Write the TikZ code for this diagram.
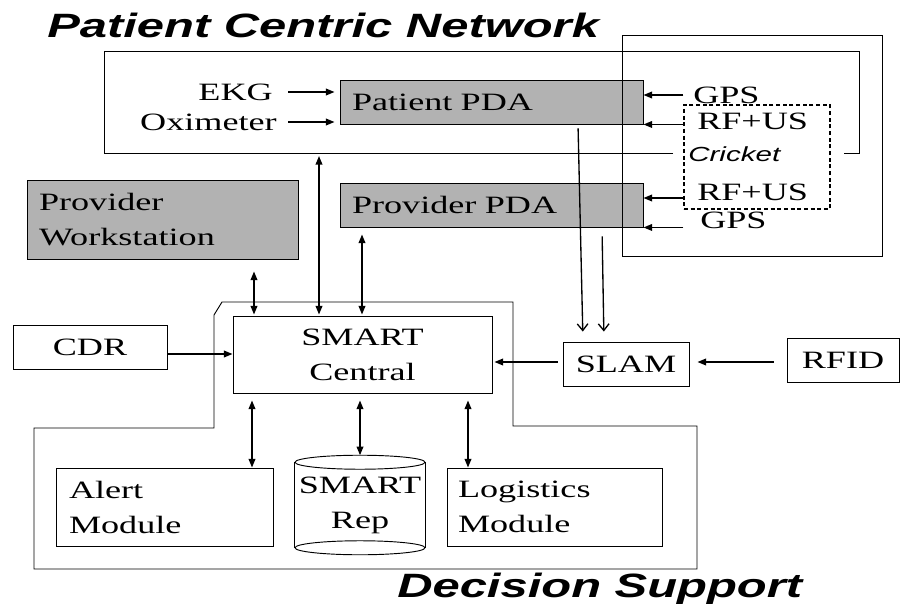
\documentclass[tikz,border=0pt]{standalone}
\usepackage{fontspec}
\setmainfont{Liberation Serif}[FakeStretch=1.45]
\newfontfamily\headfont{Liberation Sans}[FakeStretch=1.45]
\usetikzlibrary{arrows.meta}
\newcommand\pxl{0.75pt}

\begin{document}
\begin{tikzpicture}[x=0.75pt, y=-0.75pt,
    every node/.style={inner sep=0pt, font=\fontsize{18.7}{26.25}\selectfont},
    box/.style={draw, line width=0.7pt},
    graybox/.style={box, fill=gray!60},
    leftbox/.style={align=left, inner xsep=12*\pxl},
    arr/.style={-{Triangle[length=6.5pt,width=5pt]}, line width=1.2pt},
    dbl/.style={{Triangle[length=6.5pt,width=5pt]}-{Triangle[length=6.5pt,width=5pt]}, line width=1.2pt},
    barb/.style={-{Straight Barb[length=5pt,width=8pt]}, line width=1pt},
    outline/.style={line width=0.7pt},
    headline/.style={anchor=west, font=\headfont\bfseries\itshape\fontsize{25.3}{30}\selectfont}]
      \useasboundingbox (0,0) rectangle (902,613);
      %
      \node[headline] (ttlpcn) at (47,25) {Patient Centric Network};  % titles
      \node[headline] (ttlds) at (397,589) {Decision Support};
      %
      \draw[outline] (673,153) -- (104,153) -- (104,51) -- (859,51) -- (859,153) -- (844,153); % patient network
      \coordinate (pcnb) at (319,153);
      %
      \node[anchor=east] (ekg) at (273,92) {EKG};          % sensors
      \node[anchor=east] (oxi) at (277,122) {Oximeter};
      %
      \node[graybox, leftbox, minimum height=44*\pxl, text width=279*\pxl] (ppda) at (491.5,102) {Patient PDA};
      \node[graybox, leftbox, minimum height=44*\pxl, text width=279*\pxl] (vpda) at (491.5,205) {Provider PDA};
      \node[graybox, leftbox, minimum height=79*\pxl, text width=247*\pxl] (pws) at (162.5,219.5) {Provider\\Workstation};
      %
      \draw[outline] (622,35) rectangle (882,256);          % location box
      \node[draw, dash pattern=on 3pt off 2pt, line width=0.9pt, minimum width=146*\pxl, minimum height=104*\pxl] (crk) at (757,157) {};
      %
      \node[anchor=west] (gps1) at (693,95) {GPS};           % location inputs
      \node[anchor=west] (rf1) at (697,121) {RF+US};
      \node[anchor=west, font=\headfont\itshape\fontsize{15.3}{18}\selectfont] (crklbl) at (688,154) {Cricket};
      \node[anchor=west] (rf2) at (697,192) {RF+US};
      \node[anchor=west] (gps2) at (700,220) {GPS};
      %
      \draw[outline] (222,302) -- (513,302) -- (513,426) -- (697,426) -- (697,569) -- (34,569)
                     -- (34,428) -- (214,428) -- (214,315) -- cycle;   % decision support
      %
      \node[box, minimum width=259*\pxl, minimum height=77*\pxl, align=center] (smc) at (362.5,354.5) {SMART\\Central};
      \node[box, minimum width=154*\pxl, minimum height=44*\pxl] (cdr) at (90,347) {CDR};
      \node[box, minimum width=126*\pxl, minimum height=44*\pxl] (slam) at (626,364) {SLAM};
      \node[box, minimum width=112*\pxl, minimum height=44*\pxl] (rfid) at (843,360) {RFID};
      %
      \node[box, leftbox, minimum height=78*\pxl, text width=191*\pxl, inner xsep=13*\pxl] (alert) at (164.5,507) {Alert\\Module};
      \node[box, leftbox, minimum height=78*\pxl, text width=193*\pxl, inner xsep=11*\pxl] (logi) at (554.5,507) {Logistics\\Module};
      %
      \node[minimum width=130*\pxl, minimum height=99*\pxl, align=center] (rep) at (360,505) {SMART\\Rep};
      \draw[outline] ([yshift=-7*\pxl]rep.north west) -- ([yshift=7*\pxl]rep.south west);   % repository
      \draw[outline] ([yshift=-7*\pxl]rep.north east) -- ([yshift=7*\pxl]rep.south east);
      \draw[outline] ([yshift=-7*\pxl]rep.north) ellipse [x radius=65*\pxl, y radius=7*\pxl];
      \draw[outline, fill=white] ([yshift=7*\pxl]rep.south) ellipse [x radius=65*\pxl, y radius=7*\pxl];
      %
      \draw[arr, shorten <=15*\pxl, shorten >=5*\pxl] (ekg.east) -- (ppda.west |- ekg.east);   % into patient pda
      \draw[arr, shorten <=11*\pxl, shorten >=5*\pxl] (oxi.east) -- (ppda.west |- oxi.east);
      \draw[arr] (crk.west |- gps1) -- (ppda.east |- gps1);
      \draw[arr] (crk.west |- ppda.south) -- (ppda.south east);
      %
      \draw[arr] (crk.west |- 0,198) -- (vpda.east |- 0,198);  % into provider pda
      \draw[arr] (crk.west |- vpda.south) -- (vpda.south east);
      %
      \draw[barb, shorten <=4*\pxl, shorten >=10*\pxl] (ppda.south -| 578,0) -- (slam.north -| 583,0);  % to slam
      \draw[barb, shorten <=9*\pxl, shorten >=10*\pxl] (vpda.south -| 602,0) -- (slam.north -| 604,0);
      %
      \draw[dbl, shorten <=12*\pxl, shorten >=1*\pxl] (pws.south -| 254,0) -- (smc.north -| 254,0);  % into central
      \draw[dbl, shorten <=3*\pxl, shorten >=1*\pxl] (pcnb) -- (smc.north -| pcnb);
      \draw[dbl, shorten <=7*\pxl, shorten >=1*\pxl] (vpda.south -| 362,0) -- (smc.north -| 362,0);
      \draw[arr] (cdr.east |- 0,354) -- (smc.west |- 0,354);
      \draw[arr, shorten <=5*\pxl, shorten >=2*\pxl] (slam.west |- 0,362) -- (smc.east |- 0,362);
      \draw[arr, shorten <=13*\pxl, shorten >=8*\pxl] (rfid.west |- 0,362) -- (slam.east |- 0,362);
      %
      \draw[dbl, shorten <=7*\pxl] (smc.south -| 252,0) -- (alert.north -| 252,0);   % out of central
      \draw[dbl, shorten <=7*\pxl] (smc.south -| 360,0) -- (rep.north);
      \draw[dbl, shorten <=7*\pxl] (smc.south -| 468,0) -- (logi.north -| 468,0);
      %
    \end{tikzpicture}
\end{document}
